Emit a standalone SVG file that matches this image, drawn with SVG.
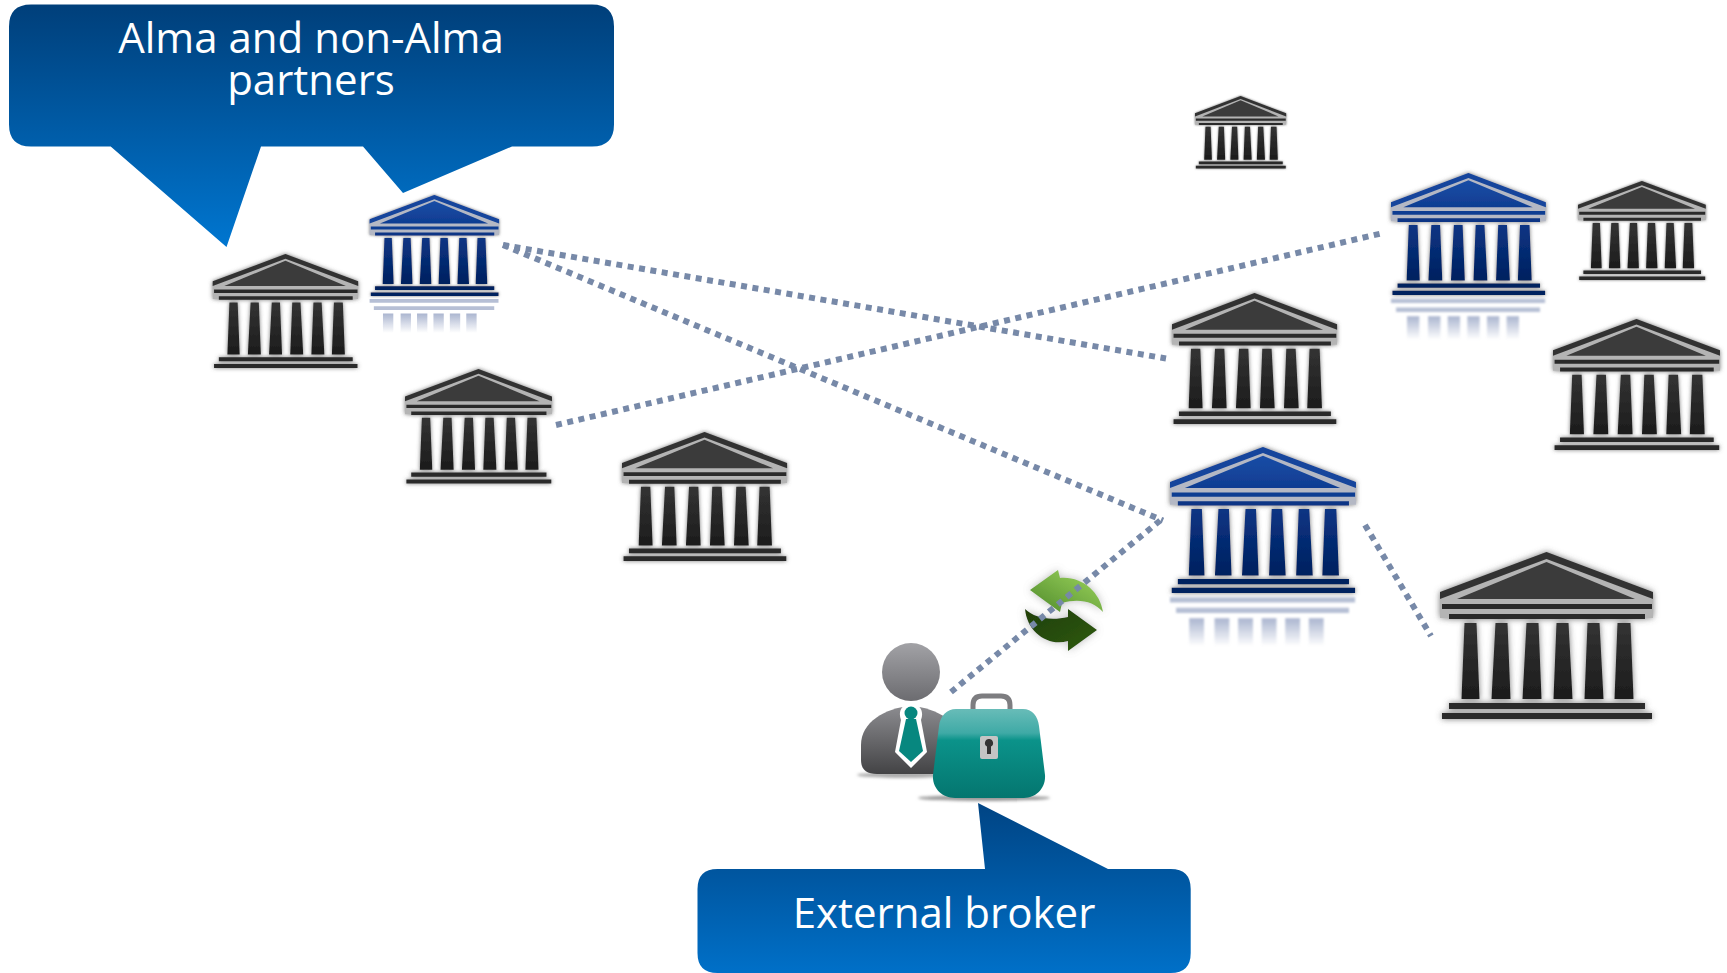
<svg xmlns="http://www.w3.org/2000/svg" xmlns:xlink="http://www.w3.org/1999/xlink" width="1727" height="973" viewBox="0 0 1727 973">
<style>
text{font-family:"Open Sans","Noto Sans","Liberation Sans",sans-serif;fill:#fff;text-anchor:middle}
.lbl{font-size:42px}
.lnk{fill:none;stroke:#7789a8;stroke-width:6;stroke-dasharray:6 5.500}
</style>
<defs>
<linearGradient id="callA" gradientUnits="userSpaceOnUse" x1="0" y1="4" x2="0" y2="247"><stop offset="0" stop-color="#003f7a"/><stop offset="1" stop-color="#0076d0"/></linearGradient>
<linearGradient id="callB" gradientUnits="userSpaceOnUse" x1="0" y1="803" x2="0" y2="973"><stop offset="0" stop-color="#004484"/><stop offset="1" stop-color="#0070c8"/></linearGradient>
<linearGradient id="blkCol" x1="0" y1="0" x2="0" y2="1"><stop offset="0" stop-color="#333"/><stop offset="1" stop-color="#1c1c1c"/></linearGradient>
<linearGradient id="bluCol" x1="0" y1="0" x2="0" y2="1"><stop offset="0" stop-color="#0b3584"/><stop offset="1" stop-color="#00205f"/></linearGradient>
<linearGradient id="bluRoof" x1="0" y1="0" x2="0" y2="1"><stop offset="0" stop-color="#1a4da6"/><stop offset="1" stop-color="#0f3d92"/></linearGradient>
<linearGradient id="refl" x1="0" y1="0" x2="0" y2="1"><stop offset="0" stop-color="#8f9dc0" stop-opacity=".75"/><stop offset="1" stop-color="#8f9dc0" stop-opacity="0"/></linearGradient>
<linearGradient id="grey" x1="0" y1="0" x2="0" y2="1"><stop offset="0" stop-color="#a2a2a6"/><stop offset="1" stop-color="#6c6c70"/></linearGradient>
<linearGradient id="body" x1="0" y1="0" x2="0" y2="1"><stop offset="0" stop-color="#8c8c90"/><stop offset="1" stop-color="#434345"/></linearGradient>
<linearGradient id="bag" x1="0" y1="0" x2="0" y2="1"><stop offset="0" stop-color="#68bcb8"/><stop offset=".27" stop-color="#3faaa6"/><stop offset=".35" stop-color="#0b938a"/><stop offset="1" stop-color="#04766f"/></linearGradient>
<linearGradient id="gLight" x1="0" y1="1" x2="1" y2="0"><stop offset="0" stop-color="#4f8a2a"/><stop offset="1" stop-color="#a0d860"/></linearGradient>
<linearGradient id="gDark" x1="0" y1="0" x2="1" y2="1"><stop offset="0" stop-color="#1f3f06"/><stop offset="1" stop-color="#2f5a0a"/></linearGradient>
<filter id="soft" x="-15%" y="-15%" width="130%" height="130%" filterUnits="objectBoundingBox" primitiveUnits="userSpaceOnUse">
<feGaussianBlur in="SourceAlpha" stdDeviation="3" result="b"/>
<feFlood flood-color="#555" flood-opacity=".8"/><feComposite in2="b" operator="in" result="s"/>
<feGaussianBlur in="SourceGraphic" stdDeviation=".7" result="g"/>
<feMerge><feMergeNode in="s"/><feMergeNode in="g"/></feMerge>
</filter>
<filter id="blur2" x="-20%" y="-20%" width="140%" height="140%"><feGaussianBlur stdDeviation="1.2"/></filter>
<filter id="blurS" x="-20%" y="-200%" width="140%" height="500%"><feGaussianBlur stdDeviation="1.5"/></filter>
<filter id="glow" x="-20%" y="-20%" width="140%" height="140%"><feGaussianBlur in="SourceAlpha" stdDeviation="4" result="b"/><feFlood flood-color="#777" flood-opacity=".5"/><feComposite in2="b" operator="in" result="s"/><feMerge><feMergeNode in="s"/><feMergeNode in="SourceGraphic"/></feMerge></filter>
<path id="pedBack" d="M106.500 0L213 42V66H0V42Z"/>
<path id="pedOuter" d="M106.500 0L213 40V47L106.500 7L0 47V40Z"/>
<path id="pedInner" d="M106.500 10L195 47H17Z"/>
<path id="bars" d="M2 52H212V57H2ZM9 62H205V67H9ZM9 151H205V157H9ZM2 161H212V167H2Z"/>
<path id="cols" d="M24.500 71H36.500L39.500 147H21.500ZM55.500 71H67.500L70.500 147H51.500ZM86.500 71H98.500L101.500 147H82.500ZM116.500 71H128.500L132.500 147H113.500ZM147.500 71H159.500L163.500 147H144.500ZM177.500 71H190.500L193.500 147H174.500Z"/>
<g id="bankBlack" filter="url(#soft)">
<use xlink:href="#pedBack" fill="#b4b4b4"/>
<use xlink:href="#pedOuter" fill="#333"/><use xlink:href="#pedInner" fill="#3a3a3a"/>
<use xlink:href="#bars" fill="#2a2a2a"/><use xlink:href="#cols" fill="url(#blkCol)"/>
</g>
<g id="bankBlue" filter="url(#soft)">
<use xlink:href="#pedBack" fill="#b4b8c4"/>
<use xlink:href="#pedOuter" fill="#13449c"/><use xlink:href="#pedInner" fill="url(#bluRoof)"/>
<path d="M2 52H212V57H2Z" fill="#0f3d92"/><path d="M9 62H205V67H9Z" fill="#0c3585"/>
<use xlink:href="#cols" fill="url(#bluCol)"/>
<path d="M9 151H205V157H9ZM2 161H212V167H2Z" fill="#00205f"/>
</g>
<g id="bankRefl" filter="url(#blur2)">
<path d="M0 172H212V178H0ZM7 184H205V190H7Z" fill="#a9b4ce" opacity=".85"/>
<path d="M20 196H37V228H20ZM49 196H66V228H49ZM76 196H93V228H76ZM103 196H120V228H103ZM130 196H147V228H130ZM157 196H174V228H157Z" transform="translate(2,0)" fill="url(#refl)"/>
</g>
</defs>
<rect width="1727" height="973" fill="#fff"/>

<g id="callout-partners">
<path d="M31 4.500H592Q614 4.500 614 26.500V124.500Q614 146.500 592 146.500H512L403 193L363 146.500H261L226.500 247L110.700 146.500H31Q9 146.500 9 124.500V26.500Q9 4.500 31 4.500Z" fill="url(#callA)"/>
<text class="lbl"><tspan x="311" y="52.500">Alma and non-Alma</tspan><tspan x="311" y="95">partners</tspan></text>
</g>
<g id="callout-broker">
<path d="M717.500 869H985L978 803L1108 869H1170.700Q1190.700 869 1190.700 889V953Q1190.700 973 1170.700 973H717.500Q697.500 973 697.500 953V889Q697.500 869 717.500 869Z" fill="url(#callB)"/>
<text class="lbl" x="944" y="928">External broker</text>
</g>

<g id="bank-a"><use xlink:href="#bankBlack" transform="translate(212.700 254) scale(.683 .683)"/></g>
<g id="bank-b"><use xlink:href="#bankBlue" transform="translate(369.600 195) scale(.608 .605)"/><use xlink:href="#bankRefl" transform="translate(369.600 195) scale(.608 .605)"/></g>
<g id="bank-c"><use xlink:href="#bankBlack" transform="translate(405 369) scale(.69 .686)"/></g>
<g id="bank-d"><use xlink:href="#bankBlack" transform="translate(622 432) scale(.775 .772)"/></g>
<g id="bank-e"><use xlink:href="#bankBlack" transform="translate(1195 96) scale(.428 .434)"/></g>
<g id="bank-f"><use xlink:href="#bankBlue" transform="translate(1391 173) scale(.727 .731)"/><use xlink:href="#bankRefl" transform="translate(1391 173) scale(.727 .731)"/></g>
<g id="bank-g"><use xlink:href="#bankBlack" transform="translate(1578 181) scale(.6 .593)"/></g>
<g id="bank-h"><use xlink:href="#bankBlack" transform="translate(1172 293) scale(.775 .784)"/></g>
<g id="bank-i"><use xlink:href="#bankBlack" transform="translate(1553 319) scale(.784 .784)"/></g>
<g id="bank-j"><use xlink:href="#bankBlue" transform="translate(1170 447) scale(.873 .874)"/><use xlink:href="#bankRefl" transform="translate(1170 447) scale(.873 .874)"/></g>
<g id="bank-k"><use xlink:href="#bankBlack" transform="translate(1440 552) scale(1 1)"/></g>

<g id="sync" filter="url(#glow)">
<path d="M1030 590L1058 570L1060 578C1082 576 1100 592 1103 612C1094 601 1078 598 1062 603L1060 612Z" fill="url(#gLight)"/>
<path d="M1097 630L1068 609V617C1050 621 1035 618 1025 609C1027 632 1048 647 1068 641V651Z" fill="url(#gDark)"/>
</g>

<g id="connectors">
<line class="lnk" x1="503" y1="245" x2="1166" y2="358.500"/>
<line class="lnk" x1="503" y1="245" x2="1163" y2="520.500"/>
<line class="lnk" x1="556" y1="425" x2="1381" y2="233.500"/>
<line class="lnk" x1="951" y1="692" x2="1162" y2="519"/>
<line class="lnk" x1="1365" y1="525" x2="1431" y2="636"/>
</g>

<g id="broker">
<ellipse cx="905" cy="775" rx="48" ry="3" fill="#aaa" filter="url(#blurS)"/>
<circle cx="911" cy="672" r="29" fill="url(#grey)"/>
<path d="M861 745C861 722 885 708 911 706C937 708 961 722 961 745V760C961 770 955 774 945 774H877C867 774 861 770 861 760Z" fill="url(#body)"/>
<path d="M911 704C921 704 924 712 921 720L927 752L911 768L895 752L901 720C898 712 901 704 911 704Z" fill="#fff"/>
<circle cx="911" cy="713" r="6.500" fill="#07877f"/>
<path d="M906 719H916L923 751L911 762L899 751Z" fill="#07877f"/>
<ellipse cx="984" cy="798" rx="66" ry="3" fill="#999" filter="url(#blurS)"/>
<path d="M973 711V705Q973 696 982 696H1001Q1010 696 1010 705V711" fill="none" stroke="#7d7d80" stroke-width="5"/>
<path d="M956 709H1023C1032 709 1038 716 1039 726L1045 775C1046 788 1036 798 1024 798H955C942 798 932 788 933 775L939 726C940 716 947 709 956 709Z" fill="url(#bag)"/>
<rect x="980" y="736" width="18" height="23" rx="2" fill="#c4c4c4"/>
<path d="M989 739a4 4 0 0 1 2 7.500V754H987V746.500a4 4 0 0 1 2-7.500Z" fill="#333"/>
</g>
</svg>
